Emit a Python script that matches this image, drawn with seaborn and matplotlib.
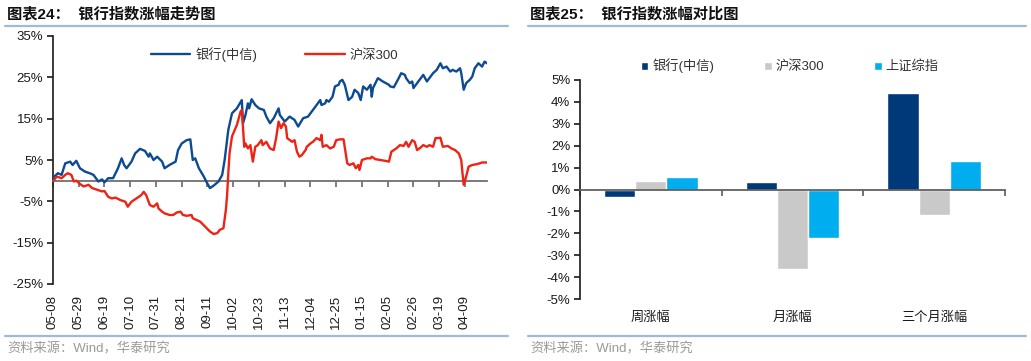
import matplotlib
matplotlib.use("Agg")
import matplotlib.pyplot as plt
import matplotlib.dates as mdates
from matplotlib.lines import Line2D
from matplotlib.ticker import FuncFormatter
import seaborn as sns
import pandas as pd

# ---- data: left chart (cumulative change %, days counted from 2024-05-08) ----
START = "2024-05-08"

bank_days = [0, 1, 4, 7, 10, 14, 16, 19, 22, 26, 30, 33, 37, 40, 42, 45, 49, 53, 56, 58,
             60, 64, 67, 71, 75, 78, 79, 82, 85, 89, 91, 95, 100, 102, 105, 109, 112, 114,
             116, 119, 123, 125, 128, 131, 135, 138, 140, 142, 143, 146, 150, 154, 155, 157,
             159, 160, 162, 165, 168, 172, 174, 177, 180, 184, 185, 189, 193, 197, 200, 204,
             208, 211, 214, 216, 218, 219, 222, 223, 225, 228, 230, 233, 234, 236, 238, 241,
             244, 246, 249, 251, 253, 256, 259, 260, 261, 265, 269, 274, 275, 278, 282, 284,
             287, 288, 291, 293, 294, 297, 299, 302, 305, 307, 310, 313, 316, 318, 321, 324,
             326, 329, 332, 333, 335, 337, 340, 342, 344, 347, 350, 352, 354]
bank_vals = [0.0, 1.0, 1.8, 1.4, 4.2, 4.6, 3.8, 4.8, 3.0, 2.2, 1.8, 1.4, -0.2, 0.3, -0.4, 0.6,
             0.6, 3.0, 5.4, 3.8, 3.0, 4.6, 6.6, 7.7, 7.2, 5.8, 6.6, 5.0, 5.8, 4.6, 3.0, 3.8,
             4.6, 7.4, 9.0, 9.8, 10.0, 5.0, 5.4, 3.0, 1.0, -0.2, -1.8, -1.2, -0.2, 1.4, 5.0,
             10.0, 12.3, 16.3, 17.5, 19.5, 13.9, 15.9, 18.7, 17.5, 19.7, 18.3, 17.5, 17.1,
             15.5, 13.9, 15.1, 17.5, 15.9, 14.3, 15.5, 14.7, 13.1, 15.1, 15.5, 16.7, 17.9,
             18.7, 19.5, 18.3, 18.7, 19.5, 19.1, 20.3, 22.8, 23.2, 24.0, 24.4, 23.2, 19.5,
             20.3, 22.0, 21.2, 19.5, 22.8, 22.0, 23.2, 20.3, 22.4, 24.8, 24.0, 23.2, 22.8,
             22.6, 24.8, 26.0, 25.6, 24.8, 23.6, 24.0, 22.4, 23.6, 24.4, 25.6, 24.0, 24.8,
             26.0, 26.8, 28.4, 27.2, 27.6, 26.4, 26.8, 26.4, 27.2, 26.0, 22.0, 23.6, 24.4,
             25.2, 27.2, 28.4, 27.6, 28.8, 28.4]

hs300_days = [0, 1, 3, 7, 10, 12, 15, 17, 19, 22, 25, 29, 32, 36, 40, 42, 45, 48, 51, 55,
              59, 61, 64, 68, 72, 74, 76, 79, 82, 85, 86, 89, 91, 95, 98, 101, 104, 106, 109,
              113, 114, 117, 120, 124, 128, 131, 134, 136, 139, 141, 142, 143, 144, 146, 150,
              153, 154, 156, 157, 159, 161, 163, 165, 167, 170, 171, 174, 177, 180, 182, 184,
              186, 188, 190, 191, 195, 197, 199, 201, 203, 206, 207, 210, 212, 215, 218, 219,
              220, 223, 226, 229, 231, 234, 237, 240, 242, 245, 247, 249, 250, 252, 256, 259,
              260, 263, 267, 271, 274, 276, 280, 283, 286, 288, 290, 293, 295, 297, 299, 302,
              305, 307, 310, 312, 314, 316, 318, 322, 325, 328, 331, 333, 334, 335, 337, 339,
              342, 346, 350, 354]
hs300_vals = [0.0, 0.2, 1.0, 0.6, 1.4, 1.8, 1.4, -0.2, 0.0, -0.8, -1.4, -1.0, -1.8, -2.2,
              -2.6, -2.5, -3.9, -4.3, -4.1, -4.7, -5.1, -6.3, -5.1, -4.3, -3.5, -2.7, -3.5,
              -5.9, -6.3, -5.5, -6.7, -7.5, -7.9, -8.3, -8.3, -7.7, -7.5, -8.3, -8.5, -8.3,
              -9.1, -9.5, -9.9, -11.1, -12.3, -12.9, -12.7, -11.9, -11.5, -7.1, -3.5, 1.8,
              6.6, 10.7, 13.5, 16.7, 17.1, 8.2, 9.0, 7.8, 8.6, 4.6, 8.2, 8.6, 9.8, 8.6, 9.4,
              7.8, 7.4, 10.3, 14.3, 12.7, 13.9, 13.1, 10.3, 9.4, 9.8, 7.0, 5.8, 6.2, 7.4, 8.2,
              9.0, 9.4, 10.3, 9.8, 11.1, 8.2, 8.6, 7.8, 8.2, 9.8, 10.0, 10.0, 4.2, 3.8, 4.2,
              3.0, 3.8, 2.6, 5.0, 5.4, 5.4, 5.8, 5.2, 5.0, 4.8, 4.6, 7.0, 7.8, 8.6, 8.4, 9.4,
              8.2, 9.8, 9.4, 7.4, 7.8, 8.6, 8.2, 8.6, 8.2, 10.3, 10.3, 10.4, 8.2, 8.4, 7.8,
              7.4, 6.6, 5.0, 1.8, -1.0, 1.0, 3.4, 3.8, 4.0, 4.4, 4.4]

# ---- data: right chart (%) ----
periods = ["周涨幅", "月涨幅", "三个月涨幅"]
series_names = ["银行(中信)", "沪深300", "上证综指"]
bank_chg = [-0.32, 0.33, 4.40]
hs300_chg = [0.40, -3.65, -1.17]
sh_chg = [0.58, -2.20, 1.30]

BLUE = "#0C4A94"
RED = "#EE2314"
NAVY = "#003979"
GRAY = "#C9C9C9"
CYAN = "#00AEEF"
TXT = "#1A1A1A"

sns.set_theme(style="ticks")
plt.rcParams["font.family"] = ["Liberation Sans", "Noto Sans CJK SC"]
plt.rcParams["axes.unicode_minus"] = False

W, H = 1031, 361
fig = plt.figure(figsize=(W / 100, H / 100), dpi=100)
pct = FuncFormatter(lambda v, p: f"{v:.0f}%")

# ---------------- left chart ----------------
ax1 = fig.add_axes([53 / W, 1 - 284 / H, 434 / W, 248 / H])
start = pd.Timestamp(START)
bank_x = mdates.date2num(start + pd.to_timedelta(bank_days, unit="D"))
hs300_x = mdates.date2num(start + pd.to_timedelta(hs300_days, unit="D"))

sns.lineplot(x=bank_x, y=bank_vals, ax=ax1, color=BLUE, linewidth=1.7,
             label=series_names[0], zorder=3)
sns.lineplot(x=hs300_x, y=hs300_vals, ax=ax1, color=RED, linewidth=1.7,
             label=series_names[1], zorder=3)

x0 = mdates.date2num(start)
ax1.set_xlim(x0, x0 + 354)
ax1.set_ylim(-25, 35)
ax1.set_yticks(range(-25, 36, 10))
ax1.yaxis.set_major_formatter(pct)
ax1.set_xlabel("")
ax1.set_ylabel("")
ax1.spines[["top", "right"]].set_visible(False)
ax1.spines["left"].set_color("#222222")
ax1.spines["bottom"].set_position(("data", 0))
ax1.spines["bottom"].set_color("#707070")
ax1.spines["bottom"].set_linewidth(1.3)

tick_dates = mdates.date2num(pd.date_range(start, periods=17, freq="21D"))
ax1.set_xticks(tick_dates)
ax1.tick_params(axis="x", direction="out", length=4, color="#707070", labelbottom=False)
ax1.tick_params(axis="y", direction="out", length=4, color="#222222", pad=3,
                labelsize=9.5, labelcolor=TXT)

sec1 = ax1.secondary_xaxis("bottom")
sec1.set_xticks(tick_dates)
sec1.xaxis.set_major_formatter(mdates.DateFormatter("%m-%d"))
sec1.tick_params(length=0, pad=8, rotation=90, labelsize=9.5, labelcolor=TXT)
sec1.spines["bottom"].set_visible(False)

h1 = ax1.get_legend().legend_handles
l1 = [t.get_text() for t in ax1.get_legend().get_texts()]
ax1.legend(h1, l1, loc="center", bbox_to_anchor=(0.511, 0.927), ncol=2, frameon=False,
           fontsize=9.5, handlelength=3.0, handletextpad=0.4, columnspacing=3.6,
           labelcolor="#333333")

# ---------------- right chart ----------------
ax2 = fig.add_axes([580 / W, 1 - 299 / H, 425 / W, 219 / H])
df = pd.DataFrame({
    "period": periods * 3,
    "series": [series_names[0]] * 3 + [series_names[1]] * 3 + [series_names[2]] * 3,
    "value": bank_chg + hs300_chg + sh_chg,
})
sns.barplot(data=df, x="period", y="value", hue="series", palette=[NAVY, GRAY, CYAN],
            width=0.66, saturation=1, ax=ax2, zorder=2)

ax2.set_ylim(-5, 5)
ax2.set_yticks(range(-5, 6))
ax2.yaxis.set_major_formatter(pct)
ax2.set_xlim(-0.5, 2.5)
ax2.set_xlabel("")
ax2.set_ylabel("")
ax2.spines[["top", "right"]].set_visible(False)
ax2.spines["left"].set_color("#222222")
ax2.spines["bottom"].set_position(("data", 0))
ax2.spines["bottom"].set_color("#606060")
ax2.spines["bottom"].set_linewidth(1.3)
ax2.set_xticks([-0.5, 0.5, 1.5, 2.5])
ax2.tick_params(axis="x", direction="out", length=4, color="#606060", labelbottom=False)
ax2.tick_params(axis="y", direction="out", length=4, color="#222222", pad=3,
                labelsize=9.5, labelcolor=TXT)

sec2 = ax2.secondary_xaxis("bottom")
sec2.set_xticks([0, 1, 2], labels=periods)
sec2.tick_params(length=0, pad=9, labelsize=9.5, labelcolor=TXT)
sec2.spines["bottom"].set_visible(False)

h2 = ax2.get_legend().legend_handles
l2 = [t.get_text() for t in ax2.get_legend().get_texts()]
ax2.legend(h2, l2, loc="center", bbox_to_anchor=(0.494, 1.064), ncol=3, frameon=False,
           fontsize=9.5, handlelength=0.55, handleheight=0.55, handletextpad=0.3,
           columnspacing=3.8, labelcolor="#333333")

# ---------------- titles, rules, source ----------------
for x, title in [(7, "图表24：  银行指数涨幅走势图"), (530, "图表25：  银行指数涨幅对比图")]:
    fig.text(x / W, 1 - 14 / H, title, fontsize=11, fontweight="bold", color="#111111",
             va="center", ha="left")
    fig.text(x / W, 1 - 349 / H, "资料来源：Wind，华泰研究", fontsize=9.5, color="#9A9A9A",
             va="center", ha="left")

for x_a, x_b in [(5, 508), (528, 1026)]:
    for y in (26, 336):
        fig.add_artist(Line2D([x_a / W, x_b / W], [1 - y / H, 1 - y / H],
                              transform=fig.transFigure, color="#A3B9D3", linewidth=1.6))

fig.savefig("out.png", dpi=100)
